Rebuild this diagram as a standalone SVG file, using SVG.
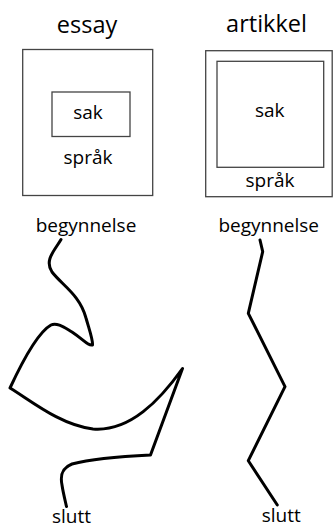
<svg xmlns="http://www.w3.org/2000/svg" width="334" height="529" viewBox="0 0 334 529">
<style>
.t{font-family:"Open Sans","Liberation Sans",sans-serif;fill:#000;text-anchor:middle}
.title{font-size:23.5px}
.lbl{font-size:19px}
.box{fill:none;stroke:#444;stroke-width:1.3}
.line{fill:none;stroke:#000;stroke-width:3;stroke-linejoin:round;stroke-linecap:round}
</style>
<rect width="334" height="529" fill="#fff"/>
<g id="essay">
<text class="t title" x="87" y="33">essay</text>
<rect class="box" x="22.7" y="49.5" width="130" height="146"/>
<rect class="box" x="52" y="92" width="78" height="44.5"/>
<text class="t lbl" x="88" y="119">sak</text>
<text class="t lbl" x="88" y="164">språk</text>
</g>
<g id="artikkel">
<text class="t title" x="266.5" y="32">artikkel</text>
<rect class="box" x="205.7" y="50.7" width="126.5" height="146"/>
<rect class="box" x="217" y="61.3" width="106.7" height="106"/>
<text class="t lbl" x="269.7" y="117">sak</text>
<text class="t lbl" x="270" y="187">språk</text>
</g>
<g id="labels">
<text class="t lbl" x="86" y="231.5">begynnelse</text>
<text class="t lbl" x="71.5" y="523">slutt</text>
<text class="t lbl" x="268.7" y="231.5">begynnelse</text>
<text class="t lbl" x="281.2" y="522">slutt</text>
</g>
<g id="connectors">
<path class="line" d="M61,239.5 C55,250 44,260 52,272 C62,285 80,295 86,318 C90,332 93,340 92.5,345 C88,346 84,340 72,332 C65,328 57,322 51,325 C42,330 30,345 10,388 C30,400 60,425 93,429 C130,432 160,400 182.5,368.5 L150.5,455 C130,456 95,458 72,464 C62,468 60,475 62,485 C63,492 65,500 66.5,506.5"/>
<path class="line" d="M260,240 L262.7,251.7 L248.3,313.3 L285,386.7 L248.3,460.7 L277.3,505"/>
</g>
</svg>
